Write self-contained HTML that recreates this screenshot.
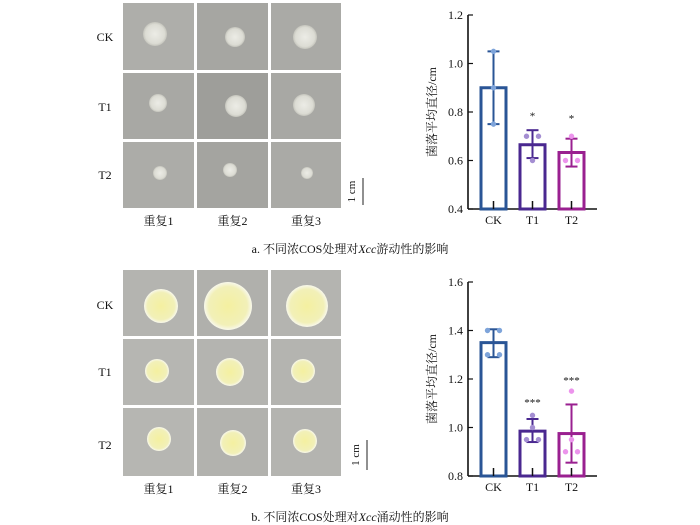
<!DOCTYPE html>
<html><head><meta charset="utf-8"><style>
body{margin:0;width:700px;height:525px;background:#fff;overflow:hidden}
svg{display:block}
text{font-family:"Liberation Serif","Noto Serif CJK SC",serif;fill:#111}
</style></head><body>
<svg id="s" width="700" height="525" xmlns="http://www.w3.org/2000/svg">
<defs>
<radialGradient id="g1"><stop offset="0" stop-color="#ecece6"/><stop offset="0.8" stop-color="#dcdcd4"/><stop offset="1" stop-color="#c4c4bc"/></radialGradient>
<radialGradient id="g2"><stop offset="0" stop-color="#f4f0a0"/><stop offset="0.8" stop-color="#f2f0b8"/><stop offset="1" stop-color="#f8f8ec"/></radialGradient>
</defs>
</svg>
<script>
const s=document.getElementById('s');let h='';
const X=[[123,194],[197,268],[271,341]];
function photos(Y,bg,grad,col,labY,colLabY,bar){
 for(let r=0;r<3;r++)for(let c=0;c<3;c++)h+=`<rect x="${X[c][0]}" y="${Y[r][0]}" width="${X[c][1]-X[c][0]}" height="${Y[r][1]-Y[r][0]}" fill="${bg[r*3+c]}"/>`;
 col.forEach(p=>h+=`<circle cx="${p[0]}" cy="${p[1]}" r="${p[2]}" fill="url(#${grad})"/>`);
 ['CK','T1','T2'].forEach((t,i)=>h+=`<text x="105" y="${labY[i]}" font-size="12" text-anchor="middle">${t}</text>`);
 ['重复1','重复2','重复3'].forEach((t,i)=>h+=`<text x="${(X[i][0]+X[i][1])/2}" y="${colLabY}" font-size="12" text-anchor="middle">${t}</text>`);
 h+=`<line x1="${bar[0]}" y1="${bar[1]}" x2="${bar[0]}" y2="${bar[2]}" stroke="#222" stroke-width="1"/>`;
 h+=`<text transform="translate(${bar[0]-8},${(bar[1]+bar[2])/2}) rotate(-90)" font-size="11" text-anchor="middle">1 cm</text>`;
}
photos([[3,70],[73,139],[142,208]],['#aeaeaa','#a6a6a2','#aaaaa6','#a8a8a4','#9e9e9a','#a8a8a4','#acaca8','#a4a4a0','#aaaaa6'],'g1',
 [[155,34,12],[235,37,10],[305,37,12],[158,103,9],[236,106,11],[304,105,11],[160,173,7],[230,170,7],[307,173,6]],[41,111,179],225,[363,178,205]);
photos([[270,336],[339,405],[408,476]],['#b4b4b0','#b0b0ac','#b4b4b0','#b6b6b2','#b4b4b0','#b4b4b0','#b6b6b2','#b2b2ae','#b4b4b0'],'g2',
 [[161,306,17],[228,306,24],[307,306,21],[157,371,12],[230,372,14],[303,371,12],[159,439,12],[233,443,13],[305,441,12]],[309,376,449],493,[367,440,470]);
function chart(top,bot,v0,ticks,data){
 const y=v=>bot-(v-v0)*242.5;
 h+=`<line x1="468" y1="${top}" x2="468" y2="${bot}" stroke="#111" stroke-width="1.6"/><line x1="468" y1="${bot}" x2="597" y2="${bot}" stroke="#111" stroke-width="1.6"/>`;
 ticks.forEach(t=>{h+=`<line x1="468" y1="${y(t)}" x2="473" y2="${y(t)}" stroke="#111" stroke-width="1.2"/><text x="463" y="${y(t)+4}" font-size="12" text-anchor="end">${t.toFixed(1)}</text>`});
 h+=`<text transform="translate(436,${(top+bot)/2}) rotate(-90)" font-size="12" text-anchor="middle">菌落平均直径/cm</text>`;
 const xs=[[481,506],[520,545],[559,584]];const names=['CK','T1','T2'];
 data.forEach((d,i)=>{const [a,b]=xs[i],cx=(a+b)/2;
  h+=`<rect x="${a}" y="${y(d.m)}" width="${b-a}" height="${bot-y(d.m)}" fill="#fff" stroke="${d.c}" stroke-width="3"/>`;
  h+=`<line x1="${cx}" y1="${y(d.e[0])}" x2="${cx}" y2="${y(d.e[1])}" stroke="${d.c}" stroke-width="2"/>`;
  d.e.forEach(v=>h+=`<line x1="${cx-6}" y1="${y(v)}" x2="${cx+6}" y2="${y(v)}" stroke="${d.c}" stroke-width="2"/>`);
  h+=`<line x1="${cx}" y1="${bot}" x2="${cx}" y2="${bot-8}" stroke="#111" stroke-width="1.5"/>`;
  d.p.forEach(p=>h+=`<circle cx="${cx+p[0]}" cy="${y(p[1])}" r="2.7" fill="${d.pc}"/>`);
  if(d.s)h+=`<text x="${cx}" y="${y(d.s[1])+5}" font-size="11" text-anchor="middle" fill="#444">${d.s[0]}</text>`;
  h+=`<text x="${cx}" y="${bot+15}" font-size="12" text-anchor="middle">${names[i]}</text>`;
 });
}
chart(15,209,0.4,[0.4,0.6,0.8,1.0,1.2],[
 {m:0.9,e:[0.75,1.05],c:'#2a5596',pc:'#7ea4da',p:[[0,1.05],[0,0.9],[0,0.75]]},
 {m:0.665,e:[0.61,0.725],c:'#4a2890',pc:'#a48ed2',p:[[-6,0.7],[6,0.7],[0,0.6]],s:['*',0.79]},
 {m:0.633,e:[0.575,0.69],c:'#9a2090',pc:'#ec94ec',p:[[0,0.7],[-6,0.6],[6,0.6]],s:['*',0.78]}]);
chart(282,476,0.8,[0.8,1.0,1.2,1.4,1.6],[
 {m:1.35,e:[1.29,1.405],c:'#2a5596',pc:'#7ea4da',p:[[-6,1.4],[6,1.4],[-6,1.3],[6,1.3]]},
 {m:0.985,e:[0.94,1.035],c:'#4a2890',pc:'#a48ed2',p:[[0,1.05],[0,1.0],[-6,0.95],[6,0.95]],s:['***',1.11]},
 {m:0.975,e:[0.855,1.095],c:'#9a2090',pc:'#ec94ec',p:[[0,1.15],[0,0.95],[-6,0.9],[6,0.9]],s:['***',1.2]}]);
h+=`<text x="350" y="253" font-size="12" text-anchor="middle">a.  不同浓COS处理对<tspan font-style="italic">Xcc</tspan>游动性的影响</text>`;
h+=`<text x="350" y="521" font-size="12" text-anchor="middle">b.  不同浓COS处理对<tspan font-style="italic">Xcc</tspan>涌动性的影响</text>`;
s.insertAdjacentHTML('beforeend',h);
</script>
</body></html>
